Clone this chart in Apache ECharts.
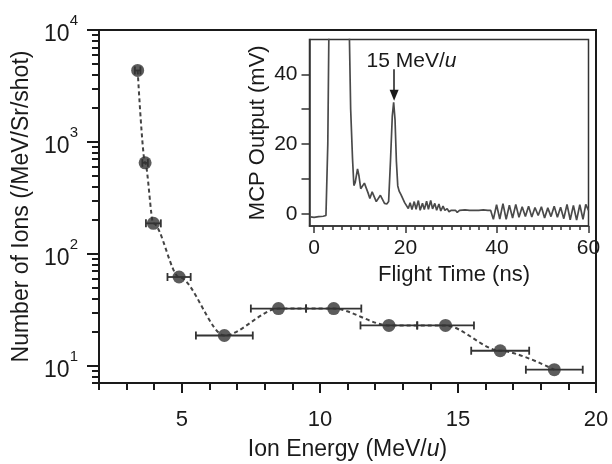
<!DOCTYPE html>
<html><head><meta charset="utf-8">
<script src="https://cdn.jsdelivr.net/npm/echarts@6/dist/echarts.min.js"></script>
<style>html,body{margin:0;padding:0;background:#fff}#c{width:612px;height:464px}</style>
</head><body><div id="c"></div>
<script>
// Main chart data
const energy = [3.4, 3.67, 3.97, 4.9, 6.54, 8.5, 10.5, 12.5, 14.55, 16.53, 18.49];
const ions = [4350, 650, 187, 62, 18.6, 32.4, 32.4, 22.9, 22.9, 13.6, 9.2];
const energyErr = [0.1, 0.1, 0.27, 0.42, 1.03, 1.0, 1.0, 1.03, 1.03, 1.05, 1.03];

const yMajorTicks = [10, 100, 1000, 10000];
const yMinorTicks = [7, 8, 9, 20, 30, 40, 50, 60, 70, 80, 90, 200, 300, 400, 500, 600, 700, 800, 900, 2000, 3000, 4000, 5000, 6000, 7000, 8000, 9000];
const xMajorTicks = [5, 10, 15, 20];
const xMinorTicks = [2, 3, 4, 6, 7, 8, 9, 11, 12, 13, 14, 16, 17, 18, 19];

// Inset data (MCP trace)
const flightTime = [-0.8, 0, 1, 2, 2.6, 3.0, 3.3, 7.6, 8.0, 8.4, 8.7, 9.0, 9.5, 9.8, 10.2, 10.6, 11.0, 11.4, 11.8, 12.2, 12.7, 13.1, 13.6, 14.0, 14.5, 14.9, 15.4, 15.9, 16.3, 16.7, 17.1, 17.4, 17.7, 18.0, 18.3, 18.6, 19.0, 19.4, 19.8, 20.2, 20.6, 21.0, 21.4, 21.9, 22.3, 22.8, 23.2, 23.7, 24.1, 24.6, 25.0, 25.5, 25.9, 26.4, 26.8, 27.3, 27.7, 28.2, 28.6, 29.1, 29.5, 30.0, 30.4, 30.9, 31.3, 31.8, 32.2, 33, 34, 35, 36, 37, 38, 38.6, 39.2, 39.9, 40.6, 41.3, 42.0, 42.7, 43.4, 44.1, 44.8, 45.5, 46.2, 46.9, 47.6, 48.3, 49.0, 49.7, 50.4, 51.1, 51.8, 52.5, 53.2, 53.9, 54.6, 55.3, 56.0, 56.7, 57.4, 58.1, 58.8, 59.4, 60];
const mcpOutput = [-0.9, -1.0, -0.8, -0.7, -0.5, 20, 60, 60, 30, 16, 8.1, 9.0, 12.9, 11, 7.2, 7.5, 8.8, 8.6, 6.0, 4.4, 6.3, 6.2, 3.5, 3.4, 5.3, 5.0, 3.0, 2.8, 3.5, 15, 28, 32, 27, 15, 8, 6.5, 5.5, 5.0, 3.2, 3.0, 1.5, 3.2, 1.2, 3.5, 1.3, 3.8, 1.0, 3.0, 1.2, 3.6, 1.3, 3.8, 1.4, 3.0, 1.0, 2.8, 0.8, 2.2, 1.0, 1.5, 0.6, 1.0, 0.5, 1.0, 0.4, 1.0, 0.5, 1.1, 1.0, 1.0, 1.0, 1.1, 1.0, 1.0, -1.6, 2.6, -1.5, 2.9, -1.6, 2.5, -1.2, 2.7, -1.0, 2.0, -0.8, 2.2, -0.9, 1.8, -0.5, 2.0, -1.2, 1.7, -0.8, 2.2, -1.0, 1.9, -1.4, 2.7, -1.7, 2.4, -1.8, 2.6, -1.6, 2.7, 1.0];
const insetXMajor = [0, 20, 40, 60];
const insetXMinor = [2, 4, 6, 8, 10, 12, 14, 16, 18, 22, 24, 26, 28, 30, 32, 34, 36, 38, 42, 44, 46, 48, 50, 52, 54, 56, 58];
const insetYTicks = [0, 10, 20, 30, 40];
const insetYLabels = [0, 20, 40];

// Annotation
const peakTime = 17.5;
const arrowFrom = 41.5, arrowTo = 34;
const noteTime = 21.3, noteLevel = 43.8;
const noteText = '15 MeV/{i|u}';

const FONT = 'Liberation Sans, Arial, sans-serif';
const INK = '#1a1a1a';

const chart = echarts.init(document.getElementById('c'));

const mainPts = energy.map((x, i) => [x, ions[i]]);
const errPts = energy.map((x, i) => [x, ions[i], energyErr[i]]);
const tracePts = flightTime.map((t, i) => [t, mcpOutput[i]]);

chart.setOption({
  animation: false,
  backgroundColor: '#fff',
  textStyle: { fontFamily: FONT, color: INK },
  grid: [
    { left: 99, top: 30, right: 16, bottom: 81, containLabel: false, outerBoundsMode: 'none', show: true, borderColor: INK, borderWidth: 2, backgroundColor: 'transparent' },
    { left: 309.5, top: 39.5, right: 23.5, bottom: 238, containLabel: false, outerBoundsMode: 'none', show: true, borderColor: '#333', borderWidth: 1.5, backgroundColor: '#fff' }
  ],
  xAxis: [
    {
      gridIndex: 0, type: 'value', min: 2, max: 20, position: 'bottom',
      axisLine: { onZero: false, lineStyle: { color: INK, width: 2 } },
      axisTick: { customValues: xMajorTicks, length: 10, lineStyle: { color: INK, width: 2 } },
      axisLabel: { customValues: xMajorTicks, fontSize: 22, margin: 26, color: INK, fontFamily: FONT },
      splitLine: { show: false },
      name: 'Ion Energy (MeV/{i|u})', nameLocation: 'middle', nameGap: 55,
      nameTextStyle: { fontSize: 23, color: INK, fontFamily: FONT, rich: { i: { fontSize: 23, fontStyle: 'italic', color: INK, fontFamily: FONT } } }
    },
    {
      gridIndex: 0, type: 'value', min: 2, max: 20, position: 'bottom',
      axisLine: { show: false, onZero: false },
      axisTick: { customValues: xMinorTicks, length: 7, lineStyle: { color: INK, width: 2 } },
      axisLabel: { show: false }, splitLine: { show: false }
    },
    {
      gridIndex: 1, type: 'value', min: -1, max: 60, position: 'bottom',
      axisLine: { onZero: false, lineStyle: { color: '#333', width: 1.5 } },
      axisTick: { customValues: insetXMajor, length: 7, lineStyle: { color: '#333', width: 1.5 } },
      axisLabel: { customValues: insetXMajor, fontSize: 21, margin: 12, color: INK, fontFamily: FONT },
      splitLine: { show: false },
      name: 'Flight Time (ns)', nameLocation: 'middle', nameGap: 38,
      nameTextStyle: { fontSize: 22, color: INK, fontFamily: FONT, padding: [0, 0, 0, 10] }
    },
    {
      gridIndex: 1, type: 'value', min: -1, max: 60, position: 'bottom',
      axisLine: { show: false, onZero: false },
      axisTick: { customValues: insetXMinor, length: 4, lineStyle: { color: '#333', width: 1.5 } },
      axisLabel: { show: false }, splitLine: { show: false }
    }
  ],
  yAxis: [
    {
      gridIndex: 0, type: 'log', min: 7, max: 10000, position: 'left',
      axisLine: { show: true, onZero: false, lineStyle: { color: INK, width: 2 } },
      axisTick: { show: true, customValues: yMajorTicks, length: 12, lineStyle: { color: INK, width: 2 } },
      axisLabel: {
        customValues: yMajorTicks, margin: 21, color: INK,
        formatter: v => '{b|10}{s|' + Math.round(Math.log10(v)) + '}',
        rich: {
          b: { fontSize: 23, fontFamily: FONT, color: INK, padding: [10, 0, 0, 0] },
          s: { fontSize: 15, fontFamily: FONT, color: INK, verticalAlign: 'top' }
        }
      },
      splitLine: { show: false },
      name: 'Number of Ions (/MeV/Sr/shot)', nameLocation: 'middle', nameGap: 65,
      nameTextStyle: { fontSize: 23, color: INK, fontFamily: FONT }
    },
    {
      gridIndex: 0, type: 'log', min: 7, max: 10000, position: 'left',
      axisLine: { show: false, onZero: false },
      axisTick: { show: true, customValues: yMinorTicks, length: 7, lineStyle: { color: INK, width: 2 } },
      axisLabel: { show: false }, splitLine: { show: false }
    },
    {
      gridIndex: 1, type: 'value', min: -3.5, max: 50, position: 'left',
      axisLine: { show: true, onZero: false, lineStyle: { color: '#333', width: 1.5 } },
      axisTick: { show: true, customValues: insetYTicks, length: 8, lineStyle: { color: '#333', width: 1.5 } },
      axisLabel: { customValues: insetYLabels, fontSize: 21, margin: 12, color: INK, fontFamily: FONT },
      splitLine: { show: false },
      name: 'MCP Output (mV)', nameLocation: 'middle', nameGap: 41,
      nameTextStyle: { fontSize: 22, color: INK, fontFamily: FONT }
    }
  ],
  series: [
    {
      type: 'line', xAxisIndex: 0, yAxisIndex: 0, data: mainPts, smooth: 0.3, smoothMonotone: 'x',
      symbol: 'none', lineStyle: { color: '#444', width: 2, type: [4, 3] }, z: 2
    },
    {
      type: 'custom', xAxisIndex: 0, yAxisIndex: 0, data: errPts, z: 3,
      renderItem: (params, api) => {
        const x = api.value(0), y = api.value(1), e = api.value(2);
        const a = api.coord([x - e, y]), b = api.coord([x + e, y]);
        const st = { stroke: '#333', lineWidth: 1.8 };
        const h = 4;
        return {
          type: 'group', children: [
            { type: 'line', shape: { x1: a[0], y1: a[1], x2: b[0], y2: b[1] }, style: st },
            { type: 'line', shape: { x1: a[0], y1: a[1] - h, x2: a[0], y2: a[1] + h }, style: st },
            { type: 'line', shape: { x1: b[0], y1: b[1] - h, x2: b[0], y2: b[1] + h }, style: st }
          ]
        };
      }
    },
    {
      type: 'scatter', xAxisIndex: 0, yAxisIndex: 0, data: mainPts, symbolSize: 13,
      itemStyle: { color: '#333' }, z: 4
    },
    {
      type: 'line', xAxisIndex: 2, yAxisIndex: 2, data: tracePts, showSymbol: false, symbol: 'none',
      clip: true, lineStyle: { color: '#4a4a4a', width: 1.7 }, z: 5,
      markLine: {
        silent: true, symbol: ['none', 'triangle'], symbolSize: [9, 11],
        lineStyle: { color: INK, type: 'solid', width: 1.5 }, label: { show: false },
        data: [[{ coord: [peakTime, arrowFrom] }, { coord: [peakTime, arrowTo] }]]
      },
      markPoint: {
        silent: true, symbol: 'circle', symbolSize: 0,
        label: {
          show: true, position: 'inside', formatter: noteText, fontSize: 21, color: INK, fontFamily: FONT,
          rich: { i: { fontSize: 21, fontStyle: 'italic', color: INK, fontFamily: FONT } }
        },
        data: [{ coord: [noteTime, noteLevel] }]
      }
    }
  ]
});
</script>
</body></html>
